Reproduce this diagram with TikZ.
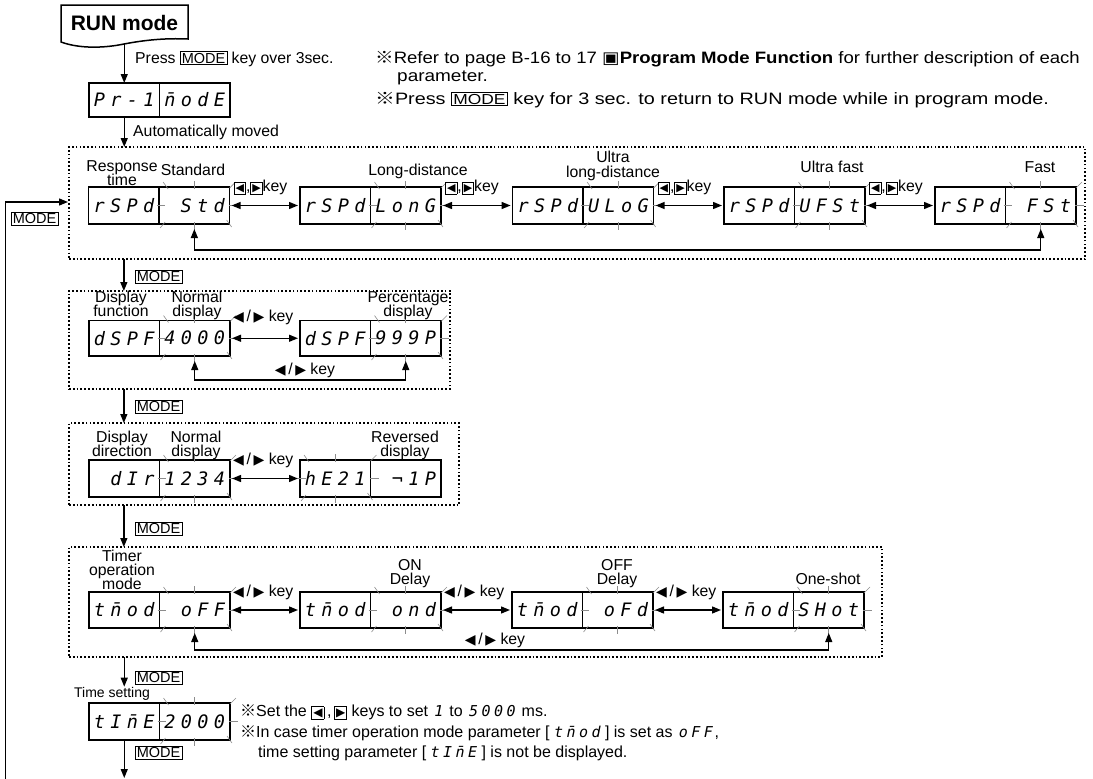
\documentclass[tikz,border=0pt]{standalone}
\usepackage{fontspec}
\usepackage{graphicx}
\setmainfont{Liberation Sans}
\newfontfamily\segfont{DejaVu Sans Mono}
\newfontfamily\symfont{DejaVu Sans}
\newfontfamily\cjkfont{Noto Sans CJK JP}
\usetikzlibrary{arrows.meta}
\setlength{\fboxsep}{1.2pt}
\setlength{\fboxrule}{0.7pt}
\newcommand\kome{{\cjkfont ※}}
\newcommand\nb{\ooalign{n\cr ¯\cr}}
\newcommand\sgc[1]{\makebox[16.5pt][c]{#1}}
\newcommand\segs[4]{{\segfont\itshape\fontsize{18.5}{18.5}\selectfont\sgc{#1}\sgc{#2}\sgc{#3}\sgc{#4}}}
\newcommand\sq[1]{\makebox[12.5pt][c]{#1}}
\newcommand\segi[1]{{\segfont\itshape\fontsize{15}{15}\selectfont #1}}
\newcommand\kbx[1]{\fbox{\symfont\fontsize{11}{11}\selectfont #1}}
\newcommand\kbb[1]{\fbox{\symfont\fontsize{12}{12}\selectfont #1}}
\newcommand\mbx{\fbox{\fontsize{14.5}{14.5}\selectfont MODE}}
\newcommand\lr{{\symfont\fontsize{14}{14}\selectfont ◀}\,/\,{\symfont\fontsize{14}{14}\selectfont ▶} key}
\newcommand\lrb{\kbx{◀},\kbx{▶}key}
\newcommand\blink[1]{%
  \draw[blk] ([shift={(0,-6)}]#1.north) -- ([shift={(0,2)}]#1.north);
  \draw[blk] ([shift={(0,-2)}]#1.south) -- ([shift={(0,6)}]#1.south);
  \draw[blk] ([shift={(-2,0)}]#1.west) -- ([shift={(6,0)}]#1.west);
  \draw[blk] ([shift={(-1,0)}]#1.east) -- ([shift={(8,0)}]#1.east);
  \draw[blk] ([shift={(4,-5)}]#1.north west) -- ([shift={(9,2)}]#1.north west);
  \draw[blk] ([shift={(0,1)}]#1.north east) -- ([shift={(6,-5)}]#1.north east);
  \draw[blk] ([shift={(6,-2)}]#1.south west) -- ([shift={(1,4)}]#1.south west);
  \draw[blk] ([shift={(-3,-4)}]#1.south east) -- ([shift={(2,3)}]#1.south east);}
\newcommand\disp[6]{%
  \node[dbox,minimum height=#4pt] (#1-l) at (#2,#3) {#5};
  \node[dbox,minimum height=#4pt] (#1-r) at (#1-l.north east) {#6};}
\begin{document}
\begin{tikzpicture}[x=1pt,y=-1pt,
  font=\fontsize{15.8}{15.8}\selectfont,
  dbox/.style={draw,line width=1.6pt,minimum width=70.5pt,inner sep=0pt,outer sep=0pt,anchor=north west},
  blk/.style={draw=black!45,line width=0.6pt},
  grp/.style={draw,line width=1.7pt,dash pattern=on 1.7pt off 2.1pt,inner sep=0pt,outer sep=0pt,anchor=north west},
  flow/.style={line width=1.3pt,-{Triangle[length=9pt,width=7pt]}},
  dbl/.style={line width=1.3pt,{Triangle[length=9pt,width=7pt]}-{Triangle[length=9pt,width=7pt]},shorten <=2pt,shorten >=2pt},
  retarrow/.style={line width=1.2pt,{Triangle[length=9pt,width=7pt]}-{Triangle[length=9pt,width=7pt]}},
  lbl/.style={anchor=base,inner sep=0pt},
  txt/.style={anchor=base west,inner sep=0pt},
  note/.style={anchor=base west,inner sep=0pt,font=\fontsize{16}{16}\selectfont},
  topnote/.style={anchor=base west,inner sep=0pt,font=\fontsize{16.5}{16.5}\selectfont},
  modelbl/.style={draw,line width=0.7pt,inner sep=1.5pt,font=\fontsize{14.5}{14.5}\selectfont,anchor=west},
  keylbl/.style={anchor=west,inner sep=0pt}]
\useasboundingbox (0,0) rectangle (1093,779);
% RUN mode
\node[inner sep=0pt,outer sep=0pt,minimum width=127pt,minimum height=35pt,anchor=north west,font=\fontsize{21}{21}\selectfont\bfseries] (run) at (61,5) {RUN mode};
\draw[line width=1.5pt] (61,42) -- (61,5) -- (188,5) -- (188,39)
  .. controls (165,38) and (145,40) .. (124,44) .. controls (105,48) and (80,49) .. cycle;
\coordinate (runb) at (124.25,44);
% Pr-1 display
\disp{p}{89}{83}{34}{\segs{P}{r}{-}{1}}{\segs{\nb}{o}{d}{E}}
\draw[flow] (runb) -- (p-l.north);
\node[txt] (t1) at (135,63) {Press \mbx\ key over 3sec.};
\node[txt] (t2) at (133,136.5) {Automatically moved};
% notes top
\node[topnote] (n1) at (375,63) {\scalebox{1.125}[1]{\kome Refer to page B-16 to 17 {\symfont ▣}\textbf{Program Mode Function} for further description of each}};
\node[topnote] (n2) at (397,81.5) {\scalebox{1.15}[1]{parameter.}};
\node[topnote] (n3) at (375,104) {\scalebox{1.2}[1]{\kome Press \mbx\ key for 3 sec. to return to RUN mode while in program mode.}};
% group 1
\node[grp,minimum width=1016pt,minimum height=112pt] (g1) at (69,147) {};
\draw[flow] (p-l.south) -- (g1.north -| p-l);
\disp{ra}{88.6}{187}{37}{\segs{r}{S}{P}{d}}{\segs{}{S}{t}{d}}
\disp{rb}{300}{187}{37}{\segs{r}{S}{P}{d}}{\segs{L}{o}{n}{G}}
\disp{rc}{512.6}{187}{37}{\segs{r}{S}{P}{d}}{\segs{U}{L}{o}{G}}
\disp{rd}{724}{187}{37}{\segs{r}{S}{P}{d}}{\segs{U}{F}{S}{t}}
\disp{re}{935}{187}{37}{\segs{r}{S}{P}{d}}{\segs{}{F}{S}{t}}
\blink{ra-r}\blink{rb-r}\blink{rc-r}\blink{rd-r}\blink{re-r}
\node[lbl] (la1) at (122,171) {Response};
\node[lbl] (la2) at (122,185) {time};
\node[lbl] (la3) at (193,175) {Standard};
\node[lbl] (lb1) at (418,175) {Long-distance};
\node[lbl] (lc1) at (613,162) {Ultra};
\node[lbl] (lc2) at (613,177) {long-distance};
\node[lbl] (ld1) at (832,172) {Ultra fast};
\node[lbl] (le1) at (1040,172) {Fast};
\foreach \a/\b in {ra/rb,rb/rc,rc/rd,rd/re}{
  \draw[dbl] (\a-r.east) -- (\b-l.west);
  \node[keylbl] at ([shift={(4,0)}]\a-r.north east) {\lrb};}
\draw[retarrow] ([shift={(0,5)}]ra-r.south) -- (ra-r.south |- 0,250) -- (re-r.south |- 0,250) -- ([shift={(0,5)}]re-r.south);
% left loop
\coordinate (lp) at (5.5,779);
\coordinate (lpin) at (68,202);
\draw[flow] (lp) |- (lpin);
\node[modelbl] (ml) at (11,219) {MODE};
% group 2
\node[grp,minimum width=381pt,minimum height=98pt] (g2) at (69,291) {};
\draw[flow] (g1.south -| ra-l) -- (g2.north -| ra-l);
\node[modelbl] (m1) at (135,277) {MODE};
\disp{da}{89}{320.5}{35.5}{\segs{d}{S}{P}{F}}{\segs{4}{0}{0}{0}}
\disp{db}{300}{320.5}{35.5}{\segs{d}{S}{P}{F}}{\segs{9}{9}{9}{P}}
\blink{da-r}\blink{db-r}
\node[lbl] (l21) at (121,302) {Display};
\node[lbl] (l22) at (121,316) {function};
\node[lbl] (l23) at (197,302) {Normal};
\node[lbl] (l24) at (197,316) {display};
\node[lbl] (l25) at (408,302) {Percentage};
\node[lbl] (l26) at (408,316) {display};
\draw[dbl] (da-r.east) -- (db-l.west);
\node[keylbl] (k2) at ([shift={(3,-3)}]da-r.north east) {\lr};
\draw[retarrow] ([shift={(0,5)}]da-r.south) -- (da-r.south |- 0,380) -- (db-r.south |- 0,380) -- ([shift={(0,5)}]db-r.south);
\node[lbl] (k2b) at (305,374) {\lr};
% group 3
\node[grp,minimum width=390pt,minimum height=82pt] (g3) at (69,423) {};
\draw[flow] (g2.south -| ra-l) -- (g3.north -| ra-l);
\node[modelbl] (m2) at (135,407) {MODE};
\disp{ea}{89}{460}{37}{\segs{}{d}{I}{r}}{\segs{1}{2}{3}{4}}
\disp{eb}{300}{460}{37}{\segs{h}{E}{2}{1}}{\segs{}{¬}{1}{P}}
\blink{ea-r}\blink{eb-l}
\node[lbl] (l31) at (122,442) {Display};
\node[lbl] (l32) at (122,456) {direction};
\node[lbl] (l33) at (196,442) {Normal};
\node[lbl] (l34) at (196,456) {display};
\node[lbl] (l35) at (405,442) {Reversed};
\node[lbl] (l36) at (405,456) {display};
\draw[dbl] (ea-r.east) -- (eb-l.west);
\node[keylbl] (k3) at ([shift={(3,0)}]ea-r.north east) {\lr};
% group 4
\node[grp,minimum width=813pt,minimum height=110pt] (g4) at (69,547) {};
\draw[flow] (g3.south -| ra-l) -- (g4.north -| ra-l);
\node[modelbl] (m3) at (135,529) {MODE};
\disp{ta}{89}{592}{36}{\segs{t}{\nb}{o}{d}}{\segs{}{o}{F}{F}}
\disp{tb}{300}{592}{36}{\segs{t}{\nb}{o}{d}}{\segs{}{o}{n}{d}}
\disp{tc}{512}{592}{36}{\segs{t}{\nb}{o}{d}}{\segs{}{o}{F}{d}}
\disp{td}{723}{592}{36}{\segs{t}{\nb}{o}{d}}{\segs{S}{H}{o}{t}}
\blink{ta-r}\blink{tb-r}\blink{tc-r}\blink{td-r}
\node[lbl] (l41) at (122,561) {Timer};
\node[lbl] (l42) at (122,575) {operation};
\node[lbl] (l43) at (122,589) {mode};
\node[lbl] (l44) at (410,570) {ON};
\node[lbl] (l45) at (410,584) {Delay};
\node[lbl] (l46) at (617,570) {OFF};
\node[lbl] (l47) at (617,584) {Delay};
\node[lbl] (l48) at (828,584) {One-shot};
\foreach \a/\b in {ta/tb,tb/tc,tc/td}{
  \draw[dbl] (\a-r.east) -- (\b-l.west);
  \node[keylbl] at ([shift={(3,0)}]\a-r.north east) {\lr};}
\draw[retarrow] ([shift={(0,5)}]ta-r.south) -- (ta-r.south |- 0,650) -- (td-r.south |- 0,650) -- ([shift={(0,5)}]td-r.south);
\node[lbl] (k4b) at (495,644) {\lr};
% time setting
\node[lbl,font=\fontsize{14}{14}\selectfont] (tsl) at (112,697) {Time setting};
\disp{ts}{89}{703}{37}{\segs{t}{I}{\nb}{E}}{\segs{2}{0}{0}{0}}
\blink{ts-r}
\draw[flow] (g4.south -| ts-l) -- (tsl.north -| ts-l);
\node[modelbl] (m4) at (135,678) {MODE};
\node[modelbl] (m5) at (135,753) {MODE};
\coordinate (bend) at (124.25,778);
\draw[flow] (ts-l.south) -- (bend);
% bottom notes
\node[note] (b1) at (240,716) {\kome Set the \kbb{◀}\,,\,\kbb{▶} keys to set \segi{\sq{1}} to \segi{\sq{5}\sq{0}\sq{0}\sq{0}} ms.};
\node[note] (b2) at (240,737) {\kome In case timer operation mode parameter [\,\segi{\sq{t}\sq{\nb}\sq{o}\sq{d}}\,] is set as \segi{\sq{o}\sq{F}\sq{F}},};
\node[note] (b3) at (258,757) {time setting parameter [\,\segi{\sq{t}\sq{I}\sq{\nb}\sq{E}}\,] is not be displayed.};
\end{tikzpicture}
\end{document}
